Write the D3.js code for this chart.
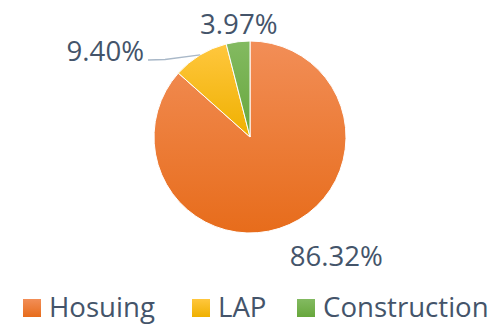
<!DOCTYPE html>
<html>
<head>
<meta charset="utf-8">
<script src="https://cdn.jsdelivr.net/npm/d3@7"></script>
<style>
  html, body { margin: 0; padding: 0; background: #fff; }
  svg { display: block; }
  text { font-family: "Open Sans", sans-serif; fill: #44546A; }
</style>
</head>
<body>
<svg id="chart" width="496" height="324"></svg>
<script>
// Loan book split by segment (percent of total)
const categories = ["Hosuing", "LAP", "Construction"];
const shares = [86.32, 9.40, 3.97];
const shareLabels = ["86.32%", "9.40%", "3.97%"];

// Light-to-dark vertical fills per segment
const colorTop = ["#F28E57", "#FFC73E", "#83BA61"];
const colorBottom = ["#E76C1B", "#EFB000", "#67A73C"];

const svg = d3.select("#chart");
const cx = 250, cy = 137, radius = 96;
const fontSize = 27.6;

const defs = svg.append("defs");
categories.forEach((c, i) => {
  const g = defs.append("linearGradient")
    .attr("id", "grad" + i)
    .attr("x1", 0).attr("y1", 0).attr("x2", 0).attr("y2", 1);
  g.append("stop").attr("offset", "0%").attr("stop-color", colorTop[i]);
  g.append("stop").attr("offset", "100%").attr("stop-color", colorBottom[i]);
});

const data = categories.map((c, i) => ({ name: c, value: shares[i], label: shareLabels[i], idx: i }));

const pie = d3.pie().value(d => d.value).sort(null);
const arcs = pie(data);
const arc = d3.arc().innerRadius(0).outerRadius(radius);

const g = svg.append("g").attr("transform", `translate(${cx},${cy})`);

g.selectAll("path.slice")
  .data(arcs)
  .join("path")
  .attr("class", "slice")
  .attr("d", arc)
  .attr("fill", d => `url(#grad${d.data.idx})`)
  .attr("stroke", "#ffffff")
  .attr("stroke-width", 1);

// Position helpers on a circle around the pie
const midAngle = d => (d.startAngle + d.endAngle) / 2;
const polar = (a, r) => [r * Math.sin(a), -r * Math.cos(a)];

// Housing label: lower right, outside the pie
{
  const d = arcs[0];
  const a = midAngle(d) - 0.21;
  const [x, y] = polar(a, 148);
  g.append("text")
    .attr("x", x - 1).attr("y", y + 9.5)
    .attr("text-anchor", "middle")
    .attr("font-size", fontSize)
    .text(d.data.label);
}

// LAP label with leader line from the slice edge
{
  const d = arcs[1];
  const a = midAngle(d);
  const [ex, ey] = polar(a, radius);
  const elbowX = 165 - cx, elbowY = 59.5 - cy;
  const endX = 148 - cx;
  g.append("polyline")
    .attr("points", [[ex, ey], [elbowX, elbowY], [endX, elbowY + 0.5]].map(p => p.join(",")).join(" "))
    .attr("fill", "none")
    .attr("stroke", "#A9B8C8")
    .attr("stroke-width", 1.3);
  g.append("text")
    .attr("x", endX - 4).attr("y", elbowY + 1)
    .attr("text-anchor", "end")
    .attr("font-size", fontSize)
    .text(d.data.label);
}

// Construction label above its slice
{
  const d = arcs[2];
  const a = midAngle(d);
  const [x, y] = polar(a, 114);
  g.append("text")
    .attr("x", x + 3).attr("y", y + 10)
    .attr("text-anchor", "middle")
    .attr("font-size", fontSize)
    .text(d.data.label);
}

// Legend
const legendX = [23, 192, 297];
const legendY = 317;
const sw = 18;
const lg = svg.append("g");
data.forEach((d, i) => {
  lg.append("rect")
    .attr("x", legendX[i]).attr("y", legendY - sw)
    .attr("width", sw).attr("height", sw)
    .attr("fill", `url(#grad${i})`);
  lg.append("text")
    .attr("x", legendX[i] + sw + 8).attr("y", legendY)
    .attr("font-size", fontSize)
    .text(d.name);
});
</script>
</body>
</html>
